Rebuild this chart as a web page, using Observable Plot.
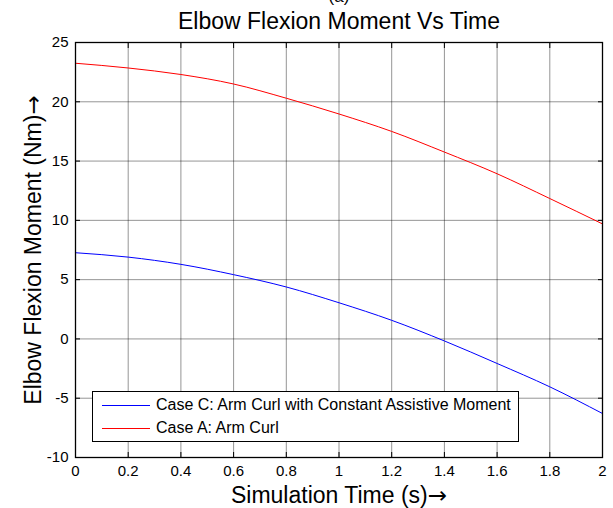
<!DOCTYPE html>
<html><head><meta charset="utf-8">
<script src="https://cdn.jsdelivr.net/npm/d3@7"></script>
<script src="https://cdn.jsdelivr.net/npm/@observablehq/plot@0.6"></script>
<style>
body{margin:0;background:#fff;font-family:"Liberation Sans",Arial,Helvetica,sans-serif;}
#wrap{position:relative;width:613px;height:508px;overflow:hidden;background:#fff}
#legend{position:absolute;left:92px;top:391px;width:427px;height:51px;border:1.3px solid #000;background:#fff;box-sizing:border-box;font-size:16px;color:#000}
.row{position:absolute;left:9px;height:20px;display:flex;align-items:center;white-space:nowrap}
.sw{display:inline-block;width:48px;height:0;margin-right:6px}
</style></head><body><div id="wrap"></div>
<script>
const time = [0, 0.2, 0.4, 0.6, 0.8, 1.0, 1.2, 1.4, 1.6, 1.8, 2.0];
const caseA = [23.25, 22.85, 22.3, 21.5, 20.3, 18.97, 17.5, 15.76, 13.93, 11.84, 9.7];
const caseC = [7.27, 6.9, 6.29, 5.42, 4.38, 3.05, 1.57, -0.17, -2.07, -4.04, -6.29];
const seriesNames = ["Case C: Arm Curl with Constant Assistive Moment", "Case A: Arm Curl"];
const seriesColors = ["#0000ff", "#ff0000"];
const xTicks = [0, 0.2, 0.4, 0.6, 0.8, 1.0, 1.2, 1.4, 1.6, 1.8, 2.0];
const xTickLabels = ["0", "0.2", "0.4", "0.6", "0.8", "1", "1.2", "1.4", "1.6", "1.8", "2"];
const yTicks = [-10, -5, 0, 5, 10, 15, 20, 25];
const yTickLabels = ["-10", "-5", "0", "5", "10", "15", "20", "25"];
const title = "Elbow Flexion Moment Vs Time";
const panelTag = "(a)";
const xLabel = "Simulation Time (s)\u2192";
const yLabel = "Elbow Flexion Moment (Nm)\u2192";

const rowsC = time.map((t, i) => ({t, v: caseC[i]}));
const rowsA = time.map((t, i) => ({t, v: caseA[i]}));
const font = '"Liberation Sans", Arial, Helvetica, sans-serif';
const gridStyle = {stroke: "#000", strokeOpacity: 0.42, strokeWidth: 1};

const chart = Plot.plot({
  width: 613, height: 508,
  marginTop: 42, marginBottom: 51, marginLeft: 75, marginRight: 11,
  x: {domain: [0, 2]},
  y: {domain: [-10, 25]},
  style: {fontFamily: font, background: "white", color: "#000", overflow: "visible"},
  marks: [
    Plot.gridX(xTicks, gridStyle),
    Plot.gridY(yTicks, gridStyle),
    Plot.lineY(rowsC, {x: "t", y: "v", stroke: seriesColors[0], strokeWidth: 1, curve: "monotone-x"}),
    Plot.lineY(rowsA, {x: "t", y: "v", stroke: seriesColors[1], strokeWidth: 1, curve: "monotone-x"}),
    Plot.axisX(xTicks, {anchor: "bottom", tickSize: 5, dy: -5, fill: "none", label: null, stroke: "#000"}),
    Plot.axisX(xTicks, {anchor: "top", tickSize: 5, dy: 5, fill: "none", label: null, stroke: "#000"}),
    Plot.axisY(yTicks, {anchor: "left", tickSize: 5, dx: 5, fill: "none", label: null, stroke: "#000"}),
    Plot.axisY(yTicks, {anchor: "right", tickSize: 5, dx: -5, fill: "none", label: null, stroke: "#000"}),
    Plot.axisX(xTicks, {anchor: "bottom", tickSize: 0, tickPadding: 8, label: null, fontSize: 15, fill: "#000",
      tickFormat: d => xTickLabels[xTicks.indexOf(d)]}),
    Plot.axisY(yTicks, {anchor: "left", tickSize: 0, tickPadding: 7, label: null, fontSize: 15, fill: "#000",
      tickFormat: d => yTickLabels[yTicks.indexOf(d)]}),
    Plot.frame({stroke: "#000", strokeWidth: 1.3}),
    Plot.text([title], {frameAnchor: "top", dy: -21, lineAnchor: "middle", fontSize: 23, fill: "#000", text: d => d}),
    Plot.text([panelTag], {frameAnchor: "top", dy: -46, lineAnchor: "middle", fontSize: 17, fill: "#000", text: d => d}),
    Plot.text([xLabel], {frameAnchor: "bottom", dy: 38, lineAnchor: "middle", fontSize: 23, fill: "#000", text: d => d}),
    Plot.text([yLabel], {frameAnchor: "left", dx: -42, textAnchor: "middle", lineAnchor: "middle", rotate: -90, fontSize: 23, fill: "#000", text: d => d})
  ]
});

// render the trailing arrow of the axis titles with a wider arrow glyph
chart.querySelectorAll("text").forEach(t => {
  const s = t.textContent;
  if (s.endsWith("\u2192") && s.length > 1) {
    t.textContent = s.slice(0, -1);
    const sp = document.createElementNS("http://www.w3.org/2000/svg", "tspan");
    sp.setAttribute("font-family", "DejaVu Sans");
    sp.textContent = "\u2192";
    t.appendChild(sp);
  }
});

const wrap = document.getElementById("wrap");
wrap.appendChild(chart);
const leg = document.createElement("div");
leg.id = "legend";
seriesNames.forEach((name, i) => {
  const r = document.createElement("div");
  r.className = "row";
  r.style.top = (i === 0 ? 3 : 26) + "px";
  const sw = document.createElement("span");
  sw.className = "sw";
  sw.style.borderTop = "1px solid " + seriesColors[i];
  const tx = document.createElement("span");
  tx.textContent = name;
  r.appendChild(sw); r.appendChild(tx);
  leg.appendChild(r);
});
wrap.appendChild(leg);
</script></body></html>
